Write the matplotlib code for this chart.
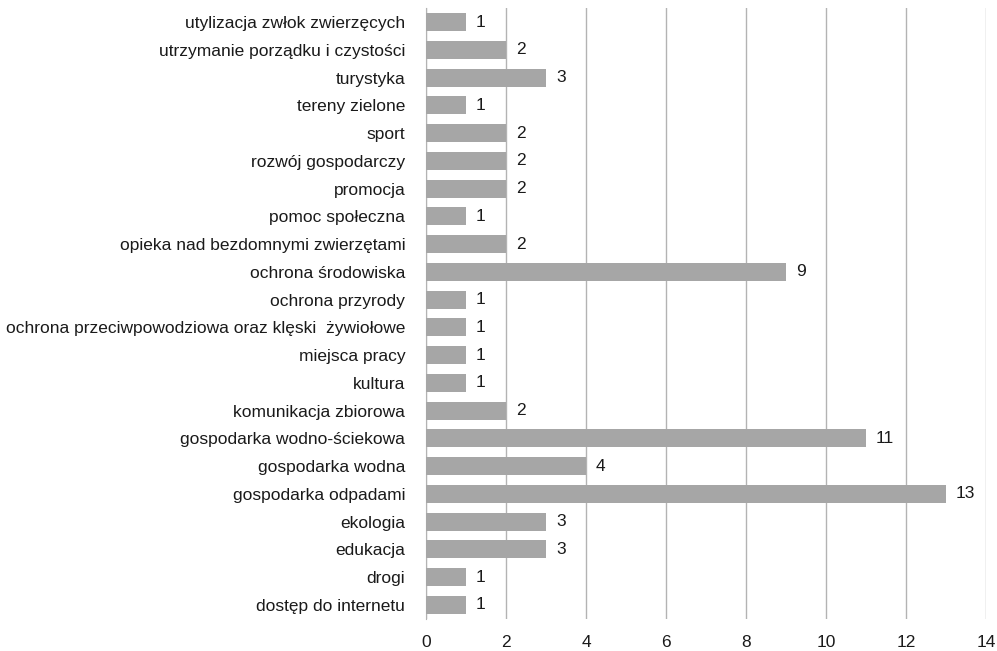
import matplotlib.pyplot as plt
import numpy as np

plt.rcParams['font.family'] = ['Liberation Sans', 'DejaVu Sans']

categories = [
    "dostęp do internetu",
    "drogi",
    "edukacja",
    "ekologia",
    "gospodarka odpadami",
    "gospodarka wodna",
    "gospodarka wodno-ściekowa",
    "komunikacja zbiorowa",
    "kultura",
    "miejsca pracy",
    "ochrona przeciwpowodziowa oraz klęski  żywiołowe",
    "ochrona przyrody",
    "ochrona środowiska",
    "opieka nad bezdomnymi zwierzętami",
    "pomoc społeczna",
    "promocja",
    "rozwój gospodarczy",
    "sport",
    "tereny zielone",
    "turystyka",
    "utrzymanie porządku i czystości",
    "utylizacja zwłok zwierzęcych",
]
counts = [1, 1, 3, 3, 13, 4, 11, 2, 1, 1, 1, 1, 9, 2, 1, 2, 2, 2, 1, 3, 2, 1]
xticks = [0, 2, 4, 6, 8, 10, 12, 14]

fig = plt.figure(figsize=(9.97, 6.51), dpi=100)
ax = fig.add_axes([0.4273, 0.0495, 0.5617, 0.938])

y = np.arange(len(categories))
ax.barh(y, counts, height=0.65, color='#a6a6a6', zorder=3)
for yi, v in zip(y, counts):
    ax.text(v + 0.25, yi, str(v), va='center', ha='left', fontsize=12.5, color='#1a1a1a')

ax.set_xlim(0, 14)
ax.set_ylim(-0.5, len(categories) - 0.5)
ax.set_xticks(xticks)
ax.set_yticks(y)
ax.set_yticklabels(categories)
ax.grid(axis='x', color='#b3b3b3', linewidth=1, zorder=0)
for s in ['top', 'right', 'bottom']:
    ax.spines[s].set_visible(False)
ax.spines['left'].set_color('#b3b3b3')
ax.tick_params(axis='both', length=0, labelsize=12.5, labelcolor='#1a1a1a')
ax.tick_params(axis='y', pad=15)
ax.tick_params(axis='x', pad=12)

fig.savefig('out.png', dpi=100)
